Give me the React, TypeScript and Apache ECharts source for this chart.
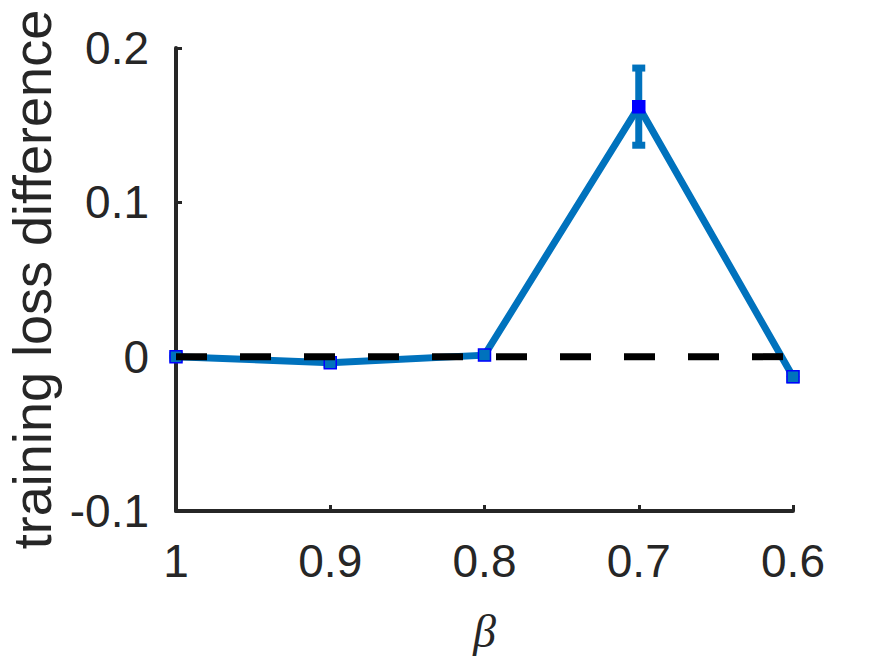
import React, { useEffect, useRef } from "react";
import * as echarts from "echarts";

const betaValues = [1, 0.9, 0.8, 0.7, 0.6];
const lossDiff = [0.0, -0.004, 0.001, 0.162, -0.013];
const errLow = [-0.001, -0.005, 0.0, 0.137, -0.015];
const errHigh = [0.001, -0.003, 0.002, 0.187, -0.011];
const zeroLine = [0, 0];
const zeroLineX = [1, 0.6];

const AXIS_COLOR = "#262626";
const LINE_COLOR = "#0072BD";

export default function App() {
  const ref = useRef<HTMLDivElement>(null);

  useEffect(() => {
    document.body.style.margin = "0";
    if (!ref.current) return;
    const chart = echarts.init(ref.current, null, { renderer: "svg" });
    const fmt = (v: number) => String(Number(v.toFixed(1)));

    const option: any = {
      animation: false,
      backgroundColor: "#ffffff",
      grid: { left: 176, right: 82, top: 48, bottom: 145, containLabel: false, outerBoundsMode: "none" },
      xAxis: {
        type: "value",
        inverse: true,
        min: 0.6,
        max: 1,
        interval: 0.1,
        name: "β",
        nameLocation: "middle",
        nameGap: 97,
        nameTextStyle: {
          fontFamily: "Liberation Serif",
          fontStyle: "italic",
          fontSize: 46,
          lineHeight: 46,
          color: AXIS_COLOR,
        },
        axisLine: { show: true, onZero: false, lineStyle: { color: AXIS_COLOR, width: 4 } },
        axisTick: { show: true, inside: true, length: 6, lineStyle: { color: AXIS_COLOR, width: 3 } },
        axisLabel: {
          formatter: fmt,
          fontFamily: "Liberation Sans",
          fontSize: 46,
          color: AXIS_COLOR,
          margin: 27,
        },
        splitLine: { show: false },
      },
      yAxis: {
        type: "value",
        min: -0.1,
        max: 0.2,
        interval: 0.1,
        name: "training loss difference",
        nameLocation: "middle",
        nameGap: 106,
        nameRotate: 90,
        nameTextStyle: {
          fontFamily: "Liberation Sans",
          fontSize: 54,
          color: AXIS_COLOR,
        },
        axisLine: { show: true, onZero: false, lineStyle: { color: AXIS_COLOR, width: 4 } },
        axisTick: { show: true, inside: true, length: 6, lineStyle: { color: AXIS_COLOR, width: 3 } },
        axisLabel: {
          formatter: fmt,
          fontFamily: "Liberation Sans",
          fontSize: 46,
          color: AXIS_COLOR,
          margin: 27,
        },
        splitLine: { show: false },
      },
      series: [
        {
          type: "custom",
          z: 2,
          data: betaValues.map((b, i) => [b, errLow[i], errHigh[i]]),
          renderItem: (params: any, api: any) => {
            const x = api.value(0);
            const top = api.coord([x, api.value(2)]);
            const bot = api.coord([x, api.value(1)]);
            const hw = 6.5;
            const style = { stroke: LINE_COLOR, lineWidth: 7, fill: null };
            return {
              type: "group",
              children: [
                { type: "line", shape: { x1: top[0], y1: top[1], x2: bot[0], y2: bot[1] }, style },
                { type: "line", shape: { x1: top[0] - hw, y1: top[1], x2: top[0] + hw, y2: top[1] }, style },
                { type: "line", shape: { x1: bot[0] - hw, y1: bot[1], x2: bot[0] + hw, y2: bot[1] }, style },
              ],
            };
          },
        },
        {
          type: "line",
          z: 3,
          data: betaValues.map((b, i) => ({
            value: [b, lossDiff[i]],
            itemStyle: errHigh[i] - errLow[i] > 0.01 ? { color: "#0000FF", borderColor: "#0000FF" } : undefined,
          })),
          symbol: "rect",
          symbolSize: 12,
          showAllSymbol: true,
          lineStyle: { color: LINE_COLOR, width: 7, cap: "butt", join: "miter" },
          itemStyle: { color: LINE_COLOR, borderColor: "#0000FF", borderWidth: 1.5 },
        },
        {
          type: "line",
          z: 4,
          data: zeroLineX.map((x, i) => [x, zeroLine[i]]),
          symbol: "none",
          lineStyle: { color: "#000000", width: 7, type: [31, 33], cap: "butt" },
          silent: true,
        },
      ],
    };
    chart.setOption(option);
    return () => chart.dispose();
  }, []);

  return <div ref={ref} style={{ width: 875, height: 656 }} />;
}
